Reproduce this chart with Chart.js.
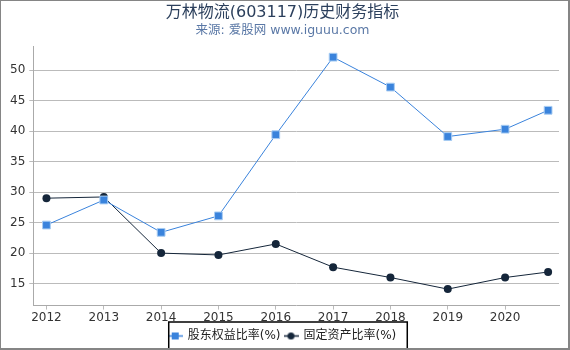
<!DOCTYPE html>
<html>
<head>
<meta charset="utf-8">
<script src="https://cdn.jsdelivr.net/npm/chart.js@4"></script>
<style>
  html, body { margin: 0; padding: 0; background: #fff; }
  #wrap { position: relative; width: 570px; height: 350px; }
</style>
</head>
<body>
<div id="wrap"><canvas id="chart" width="570" height="350"></canvas></div>
<script>
const years = [2012, 2013, 2014, 2015, 2016, 2017, 2018, 2019, 2020, 2020.75];
const equityRatio = [24.6, 28.7, 23.4, 26.1, 39.4, 52.1, 47.2, 39.1, 40.3, 43.4];
const fixedAssetRatio = [29.0, 29.2, 20.0, 19.7, 21.5, 17.7, 16.0, 14.1, 16.0, 16.9];
const yearTicks = [2012, 2013, 2014, 2015, 2016, 2017, 2018, 2019, 2020];
const valueTicks = [15, 20, 25, 30, 35, 40, 45, 50];

const FONT = '"DejaVu Sans", "Noto Sans CJK SC", sans-serif';
const BLUE = '#3a83dc';
const NAVY = '#15263a';

function legendIcon(color, style) {
    const c = document.createElement('canvas');
    c.width = 15; c.height = 9;
    const g = c.getContext('2d');
    g.strokeStyle = color; g.lineWidth = 1.5;
    g.beginPath(); g.moveTo(0, 4.5); g.lineTo(15, 4.5); g.stroke();
    g.fillStyle = color;
    if (style === 'rect') g.fillRect(4, 1, 7, 7);
    else { g.beginPath(); g.arc(7.5, 4.5, 3.5, 0, Math.PI * 2); g.fill(); }
    return c;
}

const frame = {
    id: 'frame',
    afterDraw(chart) {
        const ctx = chart.ctx;
        const boxes = chart.legend.legendHitBoxes;
        if (boxes && boxes.length) {
            let l = Infinity, r = -Infinity, t = Infinity, b = -Infinity;
            boxes.forEach(h => {
                l = Math.min(l, h.left); r = Math.max(r, h.left + h.width);
                t = Math.min(t, h.top); b = Math.max(b, h.top + h.height);
            });
            ctx.save();
            ctx.strokeStyle = '#000';
            ctx.lineWidth = 1.5;
            ctx.strokeRect(l, t - 8, r - l + 11, b - t + 20);
            ctx.restore();
        }
        // outer frame
        ctx.save();
        ctx.fillStyle = '#858585';
        ctx.fillRect(0, 0, 570, 1);
        ctx.fillRect(0, 0, 1, 350);
        ctx.fillRect(568, 0, 2, 350);
        ctx.fillRect(0, 348, 570, 2);
        ctx.restore();
    }
};

new Chart(document.getElementById('chart'), {
    type: 'line',
    data: {
        datasets: [{
            label: '股东权益比率(%)',
            data: years.map((x, i) => ({ x: x, y: equityRatio[i] })),
            borderColor: BLUE,
            backgroundColor: BLUE,
            borderWidth: 1,
            pointStyle: 'rect',
            pointRadius: 5.5,
            pointBorderColor: '#a9cdf3',
            pointBorderWidth: 1
        }, {
            label: '固定资产比率(%)',
            data: years.map((x, i) => ({ x: x, y: fixedAssetRatio[i] })),
            borderColor: NAVY,
            backgroundColor: NAVY,
            borderWidth: 1,
            pointStyle: 'circle',
            pointRadius: 4,
            pointBorderWidth: 0
        }]
    },
    options: {
        responsive: false,
        animation: false,
        layout: { padding: { left: 6, right: 11, top: 2, bottom: -2 } },
        scales: {
            x: {
                type: 'linear',
                min: 2011.77,
                max: 2020.94,
                afterBuildTicks: s => { s.ticks = yearTicks.map(v => ({ value: v })); },
                ticks: { color: '#333', font: { family: FONT, size: 12 }, padding: 1, maxRotation: 0, callback: v => String(v) },
                grid: { drawOnChartArea: false, tickLength: 4, color: '#bbb' },
                border: { color: '#aaa' }
            },
            y: {
                min: 11.4,
                max: 53.9,
                afterBuildTicks: s => { s.ticks = valueTicks.map(v => ({ value: v })); },
                ticks: { color: '#333', font: { family: FONT, size: 12 }, padding: 4 },
                grid: { color: '#bbb', tickLength: 4 },
                border: { color: '#aaa' }
            }
        },
        plugins: {
            title: {
                display: true,
                text: '万林物流(603117)历史财务指标',
                color: '#2b3f5c',
                font: { family: FONT, size: 16, weight: 'normal' },
                padding: { top: 1, bottom: 1 }
            },
            subtitle: {
                display: true,
                text: '来源: 爱股网 www.iguuu.com',
                color: '#5a78a6',
                font: { family: FONT, size: 12.5 },
                padding: { top: 0, bottom: 8 }
            },
            legend: {
                position: 'bottom',
                labels: {
                    color: '#222',
                    font: { family: FONT, size: 12 },
                    usePointStyle: true,
                    pointStyleWidth: 13,
                    padding: 4,
                    generateLabels: chart => chart.data.datasets.map((d, i) => ({
                        text: d.label,
                        pointStyle: legendIcon(d.borderColor, d.pointStyle),
                        fillStyle: d.borderColor,
                        strokeStyle: d.borderColor,
                        lineWidth: 0,
                        fontColor: '#222',
                        datasetIndex: i
                    }))
                }
            },
            tooltip: { enabled: false }
        }
    },
    plugins: [frame]
});
</script>
</body>
</html>
